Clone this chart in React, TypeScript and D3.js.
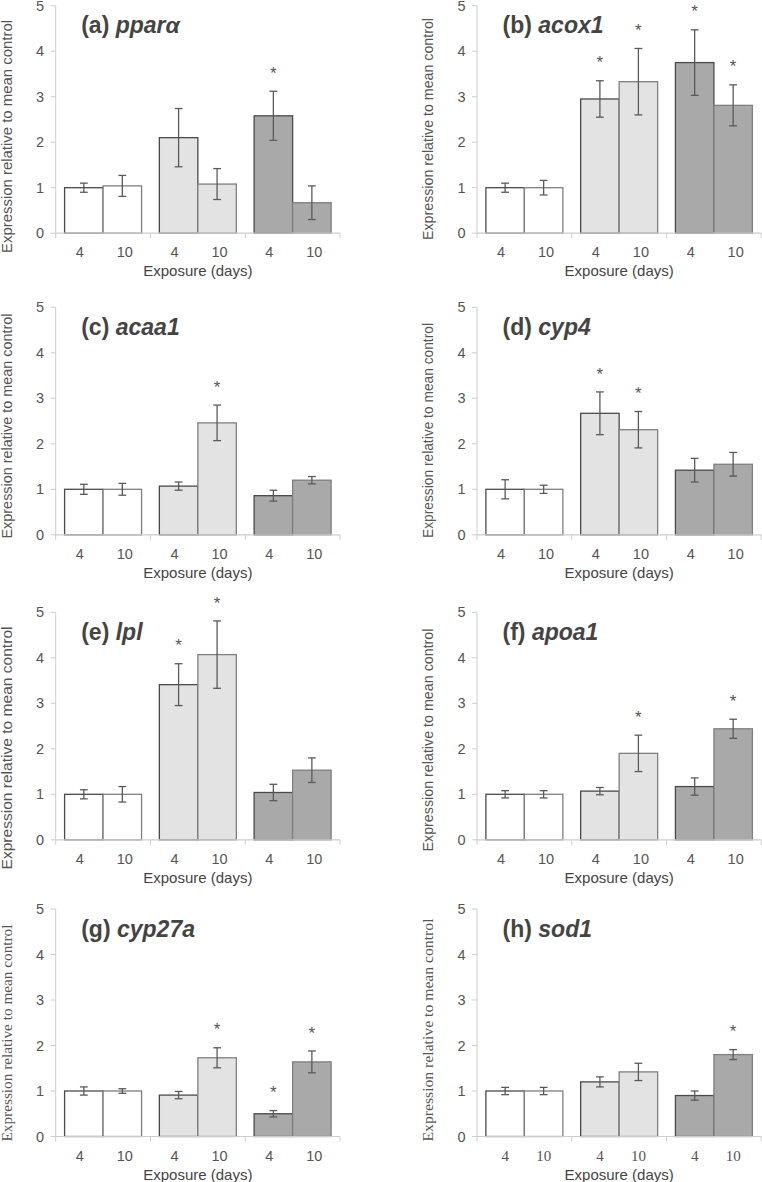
import React from "react";
import * as d3 from "d3";

// ---------- data ----------
const panelLetters = ["a", "b", "c", "d", "e", "f", "g", "h"];
const genes = ["pparα", "acox1", "acaa1", "cyp4", "lpl", "apoa1", "cyp27a", "sod1"];
const treatments = ["control", "low", "high"];
const days = ["4", "10"];

// means: [control-4, control-10, low-4, low-10, high-4, high-10]
const means = [
  [1.0, 1.04, 2.1, 1.08, 2.58, 0.67],
  [1.0, 1.0, 2.95, 3.33, 3.75, 2.81],
  [1.0, 1.0, 1.07, 2.46, 0.86, 1.2],
  [1.0, 1.0, 2.67, 2.31, 1.42, 1.55],
  [1.0, 1.0, 3.41, 4.07, 1.04, 1.53],
  [1.0, 1.0, 1.07, 1.9, 1.17, 2.44],
  [1.0, 1.0, 0.91, 1.73, 0.5, 1.64],
  [1.0, 1.0, 1.2, 1.42, 0.9, 1.8],
];
const errors = [
  [0.1, 0.23, 0.64, 0.34, 0.54, 0.37],
  [0.1, 0.16, 0.4, 0.73, 0.72, 0.45],
  [0.11, 0.13, 0.09, 0.39, 0.12, 0.08],
  [0.21, 0.09, 0.47, 0.4, 0.26, 0.26],
  [0.1, 0.17, 0.46, 0.74, 0.18, 0.27],
  [0.08, 0.08, 0.08, 0.4, 0.19, 0.21],
  [0.09, 0.05, 0.08, 0.22, 0.07, 0.24],
  [0.08, 0.08, 0.11, 0.19, 0.1, 0.11],
];
const significant = [
  [0, 0, 0, 0, 1, 0],
  [0, 0, 1, 1, 1, 1],
  [0, 0, 0, 1, 0, 0],
  [0, 0, 1, 1, 0, 0],
  [0, 0, 1, 1, 0, 0],
  [0, 0, 0, 1, 0, 1],
  [0, 0, 0, 1, 1, 1],
  [0, 0, 0, 0, 0, 1],
];
const yTicks = [0, 1, 2, 3, 4, 5];
const yTitle = "Expression relative to mean control";
const xTitle = "Exposure (days)";

// ---------- layout / style ----------
const W = 762;
const H = 1182;
const colX = [55.7, 477];
const rowTop = [5.7, 307.3, 612.3, 909];
const plotW = 284.3;
const plotH = 227.5;
const fills: Record<string, string> = { control: "#ffffff", low: "#e3e3e3", high: "#a9a9a9" };
const barStroke = ["#4a4a4a", "#7f7f7f"];
const SANS = "'Liberation Sans', Arial, Helvetica, sans-serif";
const SERIF = "'Liberation Serif', 'Times New Roman', serif";
// per-panel y-title placement (center y, length) and fonts
const yTitleCenter = [136.5, 129, 426, 430.5, 748, 740, 1033, 1030];
const yTitleLen = [233, 222, 225, 215, 243, 223, 217, 223];
const yTitleSerif = [false, false, false, false, false, false, true, true];
const xTickSerif = [false, false, false, false, false, false, false, true];

function Panel({ i }: { i: number }) {
  const x0 = colX[i % 2];
  const top = rowTop[Math.floor(i / 2)];
  const y = d3.scaleLinear().domain([0, 5]).range([top + plotH, top]);
  const xg = d3.scaleBand<string>().domain(treatments).range([x0, x0 + plotW]).padding(0);
  const xd = d3
    .scaleBand<string>()
    .domain(days)
    .range([0, xg.bandwidth()])
    .paddingInner(0)
    .paddingOuter(0.231);
  const y0 = y(0);
  const axisColor = "#cdcdcd";
  const bars = treatments.flatMap((t, ti) =>
    days.map((d, di) => {
      const k = ti * 2 + di;
      return {
        t,
        d,
        di,
        x: (xg(t) as number) + (xd(d) as number),
        w: xd.bandwidth(),
        m: means[i][k],
        e: errors[i][k],
        s: significant[i][k],
      };
    })
  );
  const serifTicks = xTickSerif[i];
  return (
    <g>
      {/* axes */}
      <line x1={x0} x2={x0} y1={y(5)} y2={y0} stroke={axisColor} strokeWidth={1} />
      {yTicks.map((v) => (
        <g key={"yt" + v}>
          <line x1={x0 - 5} x2={x0} y1={y(v)} y2={y(v)} stroke={axisColor} strokeWidth={1} />
          <text
            x={x0 - 11.5}
            y={y(v)}
            dy="0.35em"
            textAnchor="end"
            fontFamily={SANS}
            fontSize={14.5}
            fill="#555"
          >
            {v}
          </text>
        </g>
      ))}
      {/* bars */}
      {bars.map((b, bi) => (
        <rect
          key={"b" + bi}
          x={b.x}
          y={y(b.m)}
          width={b.w}
          height={y0 - y(b.m)}
          fill={fills[b.t]}
          stroke={barStroke[b.di]}
          strokeWidth={1.3}
        />
      ))}
      <line x1={x0} x2={x0 + plotW} y1={y0} y2={y0} stroke={axisColor} strokeWidth={1.2} />
      {[...treatments.map((t) => xg(t) as number), x0 + plotW].map((tx, k) => (
        <line key={"xt" + k} x1={tx} x2={tx} y1={y0} y2={y0 + 5} stroke={axisColor} strokeWidth={1} />
      ))}
      {/* error bars */}
      {bars.map((b, bi) => {
        const cx = b.x + b.w / 2;
        return (
          <g key={"e" + bi} stroke="#5a5a5a" strokeWidth={1.3}>
            <line x1={cx} x2={cx} y1={y(b.m + b.e)} y2={y(b.m - b.e)} />
            <line x1={cx - 3.9} x2={cx + 3.9} y1={y(b.m + b.e)} y2={y(b.m + b.e)} />
            <line x1={cx - 3.9} x2={cx + 3.9} y1={y(b.m - b.e)} y2={y(b.m - b.e)} />
          </g>
        );
      })}
      {/* significance */}
      {bars
        .filter((b) => b.s)
        .map((b, bi) => (
          <text
            key={"s" + bi}
            x={b.x + b.w / 2}
            y={y(b.m + b.e + 0.47) + 9}
            textAnchor="middle"
            fontFamily={SANS}
            fontSize={17}
            fill="#555"
          >
            *
          </text>
        ))}
      {/* x tick labels */}
      {bars.map((b, bi) => (
        <text
          key={"xl" + bi}
          x={b.x + b.w / 2 + (serifTicks ? 0 : b.di === 0 ? -4 : 2.5)}
          y={y0 + 24}
          textAnchor="middle"
          fontFamily={serifTicks ? SERIF : SANS}
          fontSize={serifTicks ? 15 : 14.5}
          fill="#555"
        >
          {b.d}
        </text>
      ))}
      <text
        x={x0 + plotW / 2}
        y={y0 + 43}
        textAnchor="middle"
        fontFamily={SANS}
        fontSize={15}
        fill="#444"
      >
        {xTitle}
      </text>
      {/* y title */}
      <text
        transform={`translate(${x0 - 49},${yTitleCenter[i]}) rotate(-90)`}
        textAnchor="middle"
        dy="0.35em"
        fontFamily={yTitleSerif[i] ? SERIF : SANS}
        fontSize={14.5}
        fill="#555"
        textLength={yTitleLen[i]}
        lengthAdjust="spacingAndGlyphs"
      >
        {yTitle}
      </text>
      {/* panel title */}
      <text x={x0 + 25.5} y={top + 27.5} fontFamily={SANS} fontSize={23} fontWeight="bold" fill="#444">
        <tspan>({panelLetters[i]}) </tspan>
        <tspan fontStyle="italic">{genes[i]}</tspan>
      </text>
    </g>
  );
}

export default function App() {
  return (
    <svg
      width={W}
      height={H}
      viewBox={`0 0 ${W} ${H}`}
      style={{ position: "absolute", left: 0, top: 0, background: "#fff", display: "block" }}
    >
      <rect width={W} height={H} fill="#fff" />
      {genes.map((_, i) => (
        <Panel key={i} i={i} />
      ))}
    </svg>
  );
}
